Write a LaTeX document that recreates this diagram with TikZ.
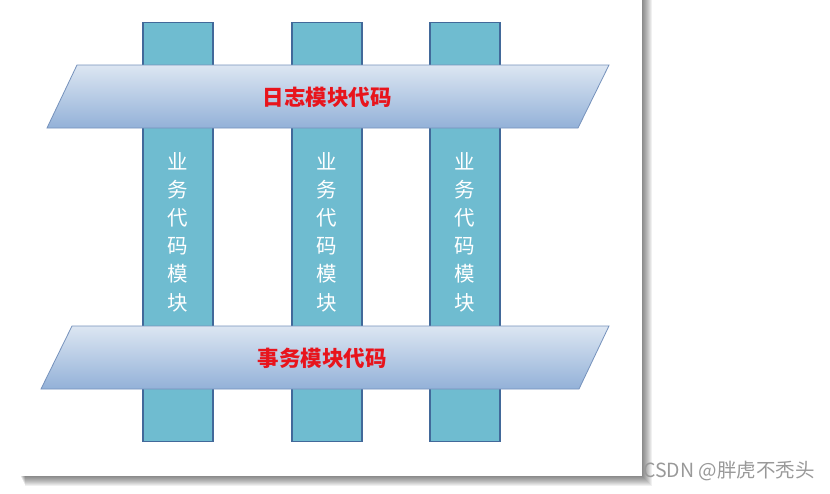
\documentclass[tikz,border=0pt]{standalone}
\usepackage{fontspec}
\newfontfamily\cjk{Noto Sans CJK SC}
\definecolor{pillarfill}{HTML}{6FBCD0}
\definecolor{pillarline}{HTML}{42699A}
\definecolor{bandtop}{HTML}{DCE6F2}
\definecolor{bandbot}{HTML}{93B1D8}
\definecolor{bandline}{HTML}{7692BC}
\definecolor{titlered}{HTML}{E8141C}
\begin{document}
\begin{tikzpicture}[x=1pt,y=-1pt,
  pillar/.style={draw=pillarline, fill=pillarfill, line width=1.1pt,
    minimum width=70pt, minimum height=419pt, inner sep=0pt,
    text=white, font=\cjk\fontsize{20.5}{28.2}\selectfont, align=center},
  band/.style={top color=bandtop, bottom color=bandbot, draw=bandline, line width=0.8pt},
  bandtext/.style={text=titlered, font=\cjk\bfseries\fontsize{21.5}{24}\selectfont, inner sep=0pt},
  wmark/.style={text=black!40, font=\cjk\fontsize{19.5}{22}\selectfont, inner sep=0pt, anchor=west}]
\useasboundingbox (0,0) rectangle (830,493);
% page with shadow
\foreach \i in {1,...,10}
  \fill[black, opacity=0.06] (20+\i*0.5,-5) rectangle (642+\i,476+\i);
\fill[white] (20,-5) rectangle (642,476);
% pillars
\node[pillar] (p1) at (178,232) {业\\务\\代\\码\\模\\块};
\node[pillar] (p2) at (327,232) {业\\务\\代\\码\\模\\块};
\node[pillar] (p3) at (465,232) {业\\务\\代\\码\\模\\块};
% bands
\shade[band] (47,128) -- (77,65) -- (609,65) -- (578,128) -- cycle;
\node[bandtext] (log) at (327,97) {日志模块代码};
\shade[band] (41,389) -- (72,326) -- (609,326) -- (579,389) -- cycle;
\node[bandtext] (tx) at (322,358) {事务模块代码};
% watermark
\node[wmark] (wm) at (643,471) {CSDN @胖虎不秃头};
\end{tikzpicture}
\end{document}
